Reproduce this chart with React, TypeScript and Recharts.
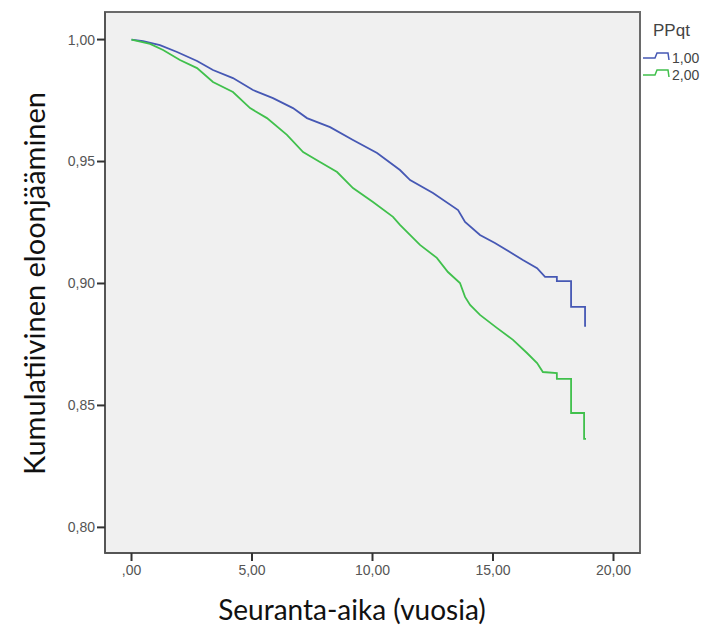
import { LineChart, Line, XAxis, YAxis, CartesianGrid, ReferenceArea } from 'recharts';

// survival curves (time in years, cumulative survival)
const blueTimes = [0, 0.48, 1.18, 1.89, 2.72, 3.38, 4.21, 5.04, 5.87, 6.7, 7.28, 8.24, 9.19, 10.19, 11.14, 11.56, 12.51, 13.55, 13.84, 14.46, 15.08, 15.7, 16.24, 16.83, 17.16, 17.65, 17.65, 18.24, 18.24, 18.82, 18.82, 18.86];
const blueValues = [1.0, 0.9994, 0.9977, 0.9949, 0.9912, 0.9875, 0.9842, 0.9793, 0.976, 0.9719, 0.9678, 0.9641, 0.9588, 0.9535, 0.9465, 0.9424, 0.9371, 0.9301, 0.9252, 0.9199, 0.9166, 0.9129, 0.9096, 0.9063, 0.9027, 0.9027, 0.901, 0.901, 0.8904, 0.8904, 0.8826, 0.8826];

const greenTimes = [0, 0.77, 1.31, 2.01, 2.72, 3.38, 4.21, 4.92, 5.62, 6.45, 7.12, 7.82, 8.53, 9.19, 10.02, 10.85, 11.14, 11.97, 12.67, 13.13, 13.63, 13.84, 14.05, 14.46, 15.16, 15.83, 16.41, 16.83, 17.07, 17.65, 17.65, 18.24, 18.24, 18.78, 18.78, 18.86];
const greenValues = [1.0, 0.9982, 0.9957, 0.9916, 0.9883, 0.9826, 0.9785, 0.9719, 0.9678, 0.9609, 0.9539, 0.9498, 0.9457, 0.9391, 0.9334, 0.9273, 0.924, 0.9158, 0.9105, 0.9047, 0.9002, 0.8945, 0.8912, 0.8871, 0.8818, 0.8769, 0.8715, 0.8674, 0.8637, 0.8633, 0.8609, 0.8609, 0.8469, 0.8469, 0.8363, 0.8363];

const xTicks = [0, 5, 10, 15, 20];
const yTicks = [0.8, 0.85, 0.9, 0.95, 1.0];
const groups = ['1,00', '2,00'];

const X_DOMAIN: [number, number] = [-1.1, 21.1];
const Y_DOMAIN: [number, number] = [0.7895, 1.0113];

const BLUE = '#4658b4';
const GREEN = '#40c04c';
const FRAME = '#555555';

const toRows = (ts: number[], vs: number[]) => ts.map((t, i) => ({ t, v: vs[i] }));
const blueData = toRows(blueTimes, blueValues);
const greenData = toRows(greenTimes, greenValues);

const fmtX = (v: number) => (v === 0 ? ',00' : v.toFixed(2).replace('.', ','));
const fmtY = (v: number) => v.toFixed(2).replace('.', ',');

const tickStyle = { fontSize: 14, fill: '#555', fontFamily: 'Liberation Sans, Arial, sans-serif' };
const titleFont = 'Lato, sans-serif';
const legendFont = 'Liberation Sans, Arial, sans-serif';

export default function App() {
  return (
    <div style={{ position: 'absolute', left: 0, top: 0, width: 705, height: 635, background: '#fff' }}>
      <LineChart width={705} height={635} margin={{ top: 12, right: 65, bottom: 52, left: 0 }}>
        <CartesianGrid fill="#f0f0f0" horizontal={false} vertical={false} />
        <ReferenceArea
          x1={X_DOMAIN[0]}
          x2={X_DOMAIN[1]}
          y1={Y_DOMAIN[0]}
          y2={Y_DOMAIN[1]}
          fill="none"
          fillOpacity={0}
          stroke="#6a6a6a"
          strokeWidth={2}
          ifOverflow="visible"
        />
        <XAxis
          dataKey="t"
          type="number"
          domain={X_DOMAIN}
          allowDataOverflow
          ticks={xTicks}
          tickFormatter={fmtX}
          height={30}
          tickSize={8}
          tickMargin={4}
          tick={tickStyle}
          axisLine={{ stroke: FRAME, strokeWidth: 2 }}
          tickLine={{ stroke: '#333', strokeWidth: 2 }}
        />
        <YAxis
          dataKey="v"
          type="number"
          domain={Y_DOMAIN}
          allowDataOverflow
          ticks={yTicks}
          tickFormatter={fmtY}
          width={105}
          tickSize={8}
          tickMargin={2}
          tick={tickStyle}
          axisLine={{ stroke: FRAME, strokeWidth: 2 }}
          tickLine={{ stroke: '#333', strokeWidth: 2 }}
        />
        <Line data={blueData} dataKey="v" type="linear" stroke={BLUE} strokeWidth={1.8} dot={false} isAnimationActive={false} />
        <Line data={greenData} dataKey="v" type="linear" stroke={GREEN} strokeWidth={1.8} dot={false} isAnimationActive={false} />
      </LineChart>

      {/* axis titles and legend */}
      <svg width={705} height={635} style={{ position: 'absolute', left: 0, top: 0, pointerEvents: 'none' }}>
        <text x={45} y={283.5} transform="rotate(-90 45 283.5)" textAnchor="middle" fontFamily={titleFont} fontSize={29} fill="#111">
          Kumulatiivinen eloonjääminen
        </text>
        <text x={352} y={620} textAnchor="middle" fontFamily={titleFont} fontSize={28} fill="#111">
          Seuranta-aika (vuosia)
        </text>

        <text x={653} y={36} fontFamily={legendFont} fontSize={17} fill="#444">
          PPqt
        </text>
        {groups.map((g, i) => {
          const base = 63 + i * 17;
          const color = i === 0 ? BLUE : GREEN;
          return (
            <g key={g}>
              <path
                d={`M643,${base - 5} H655 L657,${base - 10} H668 L669,${base - 3}`}
                fill="none"
                stroke={color}
                strokeWidth={1.5}
              />
              <text x={672} y={base} fontFamily={legendFont} fontSize={14} fill="#444">
                {g}
              </text>
            </g>
          );
        })}
      </svg>
    </div>
  );
}
